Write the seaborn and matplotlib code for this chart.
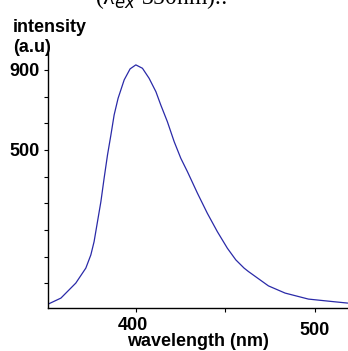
import matplotlib
matplotlib.use("Agg")
import matplotlib.pyplot as plt
import matplotlib.transforms as mtransforms
import seaborn as sns
import pandas as pd

# Data
wavelength = [351.1, 358.2, 366.5, 372.1, 374.9, 376.7, 378.6, 380.5, 382.3, 384.2,
              386.1, 387.9, 390.1, 393.5, 396.8, 400.0, 403.7, 407.4, 411.2, 413.9,
              417.6, 421.4, 425.1, 428.8, 434.4, 439.9, 445.5, 451.1, 455.8, 460.4,
              462.8, 474.0, 483.3, 496.3, 509.3, 518.2]
intensity = [-271, -241, -166, -91, -25, 41, 141, 241, 358, 475,
             575, 675, 758, 850, 905, 925, 908, 858, 791, 725,
             641, 541, 458, 391, 283, 183, 91, 8, -50, -91,
             -108, -180, -216, -246, -258, -266]
x_ticks = [400, 450, 500]
x_ticklabels = ["400", "", "500"]
y_ticks = [900, 766.7, 633.3, 500, 366.7, 233.3, 100, -33.3, -166.7]
y_ticklabels = ["900", "", "", "500", "", "", "", "", ""]

df = pd.DataFrame({"wavelength": wavelength, "intensity": intensity})

sns.set_style("white")
plt.rcParams["font.family"] = ["Liberation Sans", "DejaVu Sans"]
plt.rcParams["text.color"] = "black"
plt.rcParams["xtick.color"] = "black"
plt.rcParams["ytick.color"] = "black"

fig = plt.figure(figsize=(3.48, 3.51), dpi=100)
ax = fig.add_axes([0.138, 0.1217, 0.862, 0.7265])

sns.lineplot(data=df, x="wavelength", y="intensity", ax=ax,
             color="#2a2aa8", linewidth=0.9)

ax.set_xlim(351, 518.4)
ax.set_ylim(-292, 983)

for s in ["top", "right"]:
    ax.spines[s].set_visible(False)
for s in ["left", "bottom"]:
    ax.spines[s].set_color("black")
    ax.spines[s].set_linewidth(1.0)

ax.set_xticks(x_ticks)
ax.set_xticklabels(x_ticklabels, fontsize=13, fontweight="bold", color="black")
ax.set_yticks(y_ticks)
ax.set_yticklabels(y_ticklabels, fontsize=13, fontweight="bold", color="black")
ax.tick_params(axis="both", direction="out", length=3, width=0.8,
               color="black", bottom=True, left=True)
ax.tick_params(axis="x", pad=3)
ax.tick_params(axis="y", pad=3)

# small offsets of individual tick labels as in the reference
labs = ax.get_xticklabels()
labs[0].set_transform(labs[0].get_transform() +
                      mtransforms.ScaledTranslation(-0.03, 0, fig.dpi_scale_trans))
labs[2].set_transform(labs[2].get_transform() +
                      mtransforms.ScaledTranslation(0, -0.05, fig.dpi_scale_trans))

ax.set_xlabel("")
ax.set_ylabel("")

fig.text(198 / 348, 1 - 342 / 351, "wavelength (nm)", ha="center", va="center",
         fontsize=13, fontweight="bold", color="black")
fig.text(13 / 348, 1 - 27 / 351, "intensity", ha="left", va="center",
         fontsize=13, fontweight="bold", color="black")
fig.text(13 / 348, 1 - 48 / 351, "(a.u)", ha="left", va="center",
         fontsize=13, fontweight="bold", color="black")

# partially cut caption from the source document
fig.text(95 / 348, 1 - 4 / 351, "(λ$_{ex}$ 350nm).:", ha="left", va="baseline",
         fontsize=17, family=["Liberation Serif", "DejaVu Serif"], color="black")

fig.savefig("out.png", dpi=100)
